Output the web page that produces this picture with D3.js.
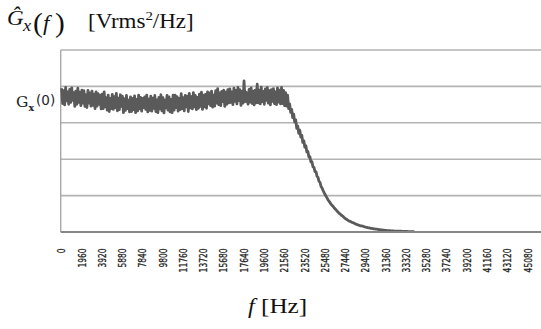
<!DOCTYPE html>
<html>
<head>
<meta charset="utf-8">
<script src="https://cdn.jsdelivr.net/npm/d3@7/dist/d3.min.js"></script>
<style>
  html, body { margin: 0; padding: 0; background: #fff; }
  svg { display: block; }
</style>
</head>
<body>
<svg id="chart" width="541" height="329"></svg>
<script>
// Estimated power spectral density, one value per 98 Hz bin starting at 0 Hz
const binWidthHz = 98;
const psdValues = [
  // pass band (noisy plateau)
  3.95, 3.53, 3.88, 3.49, 3.97, 3.60, 3.85, 3.51, 3.92, 3.56, 3.96, 3.62, 3.83,
  3.45, 3.87, 3.51, 3.95, 3.56, 3.84, 3.47, 3.90, 3.54, 3.88,
  3.45, 3.77, 3.42, 3.89, 3.54, 3.82, 3.46, 3.87, 3.48, 3.79,
  3.39, 3.85, 3.46, 3.80, 3.51, 3.76, 3.38, 3.79, 3.39, 3.85,
  3.44, 3.69, 3.35, 3.76, 3.31, 3.67, 3.39, 3.78, 3.37, 3.72, 3.42, 3.81, 3.33, 3.68, 3.36, 3.77, 3.45, 3.73,
  3.28, 3.66, 3.34, 3.75, 3.39, 3.62, 3.30, 3.71, 3.31, 3.67, 3.36, 3.74, 3.28, 3.64, 3.33, 3.76, 3.38, 3.70, 3.32,
  3.67, 3.42, 3.71, 3.37, 3.76, 3.30, 3.65, 3.34, 3.73, 3.32, 3.68, 3.40, 3.75, 3.31, 3.63, 3.28,
  3.70, 3.38, 3.77, 3.33, 3.69, 3.27, 3.62, 3.41, 3.75, 3.35, 3.71, 3.30, 3.64, 3.28, 3.76,
  3.35, 3.76, 3.42, 3.72, 3.32, 3.67, 3.36, 3.80, 3.39, 3.69, 3.33, 3.75, 3.44, 3.73, 3.31,
  3.81, 3.41, 3.72, 3.38, 3.83, 3.44, 3.75, 3.36, 3.70, 3.40, 3.79, 3.45, 3.84, 3.37, 3.76,
  3.44, 3.78, 3.40, 3.85, 3.52, 3.82, 3.47, 3.87, 3.43, 3.76,
  3.46, 3.88, 3.54, 3.94, 3.50, 3.82, 3.47, 3.86, 3.58, 3.90, 3.45, 3.84, 3.51, 3.91, 3.55,
  3.93, 3.56, 3.85, 3.50, 3.95, 3.59, 3.89, 3.52, 3.97, 3.61,
  3.91, 3.48, 3.86, 3.54, 4.15, 3.58, 3.84, 3.62, 3.51, 3.92,
  3.57, 3.96, 3.53, 3.87, 3.49, 3.90, 3.55, 4.06, 3.55, 3.90,
  3.52, 3.98, 3.58, 3.86, 3.51, 3.93, 3.62, 3.97, 3.54, 3.88,
  3.49, 3.91, 3.59, 3.94, 3.53, 3.85, 3.50, 3.96, 3.57, 3.90,
  3.52, 3.97, 3.53, 3.89, 3.47, 3.83, 3.46, 3.76, 3.39,
  // roll-off
  3.52, 3.29, 3.37, 3.14, 3.24, 3.02, 3.08, 2.85, 2.91, 2.71,
  2.80, 2.61, 2.66, 2.46, 2.51, 2.33, 2.37, 2.20, 2.21, 2.06,
  2.07, 1.92, 1.93, 1.79, 1.78, 1.66, 1.66, 1.53, 1.50, 1.39,
  1.36, 1.25, 1.21, 1.14, 1.08, 1.03, 0.98, 0.93, 0.88, 0.84,
  0.80, 0.76, 0.73, 0.70, 0.66, 0.63, 0.60, 0.57, 0.54, 0.51,
  0.49, 0.46, 0.44, 0.42, 0.39, 0.37, 0.35, 0.33, 0.31, 0.30,
  0.29, 0.27, 0.26, 0.25, 0.24, 0.22, 0.21, 0.20, 0.19, 0.18,
  0.17, 0.165, 0.16, 0.15, 0.14, 0.135, 0.13, 0.12, 0.115, 0.11,
  0.10, 0.097, 0.093, 0.088, 0.084, 0.080, 0.076, 0.072, 0.068, 0.064,
  0.060, 0.056, 0.052, 0.049, 0.046, 0.043, 0.040, 0.038, 0.036, 0.034,
  0.032, 0.030, 0.029, 0.027, 0.026, 0.025, 0.024, 0.023, 0.022, 0.021,
  0.020, 0.019, 0.018, 0.017, 0.016, 0.015, 0.014, 0.013, 0.012, 0.011,
  0.010, 0.010, 0.009, 0.008
];
// Frequency tick labels (Hz)
const tickFreqs = [
  0, 1960, 3920, 5880, 7840, 9800, 11760, 13720, 15680, 17640, 19600, 21560,
  23520, 25480, 27440, 29400, 31360, 33320, 35280, 37240, 39200, 41160, 43120, 45080
];
// Horizontal grid levels
const gridLevels = [1, 2, 3, 4, 5];

const svg = d3.select("#chart");

const plot = { left: 60.7, top: 50, bottom: 232 };
const x = d3.scaleLinear().domain([0, 47040]).range([61.6, 61.6 + 24 * 20.27]);
const y = d3.scaleLinear().domain([0, 5]).range([plot.bottom, plot.top]);

// grid lines
svg.append("g")
  .selectAll("line")
  .data(gridLevels)
  .join("line")
  .attr("x1", plot.left).attr("x2", 600)
  .attr("y1", d => y(d)).attr("y2", d => y(d))
  .attr("stroke", "#b3b3b3")
  .attr("stroke-width", 1.6);

// value axis line (no labels)
svg.append("line")
  .attr("x1", plot.left).attr("x2", plot.left)
  .attr("y1", y(5)).attr("y2", y(0))
  .attr("stroke", "#a8a8a8").attr("stroke-width", 1.4);

// spectrum trace
const line = d3.line()
  .x((d, i) => x(i * binWidthHz))
  .y(d => y(d));

svg.append("path")
  .datum(psdValues)
  .attr("d", line)
  .attr("fill", "none")
  .attr("stroke", "#5a5a5a")
  .attr("stroke-width", 2.8)
  .attr("stroke-linejoin", "round");

// category axis line
svg.append("line")
  .attr("x1", plot.left).attr("x2", 600)
  .attr("y1", y(0)).attr("y2", y(0))
  .attr("stroke", "#878787").attr("stroke-width", 1.8);

// rotated frequency labels
svg.append("g")
  .selectAll("text")
  .data(tickFreqs)
  .join("text")
  .attr("transform", d => `translate(${x(d) + 3.7},248.5) rotate(-90) scale(0.8,1.15)`)
  .attr("text-anchor", "end")
  .attr("font-family", "DejaVu Sans")
  .attr("font-size", 9.4)
  .attr("fill", "#1a1a1a")
  .attr("stroke", "#1a1a1a")
  .attr("stroke-width", 0.25)
  .text(d => d);

// G_x(0) marker label
const gl = svg.append("text")
  .attr("x", 16).attr("y", 106.5)
  .attr("fill", "#1e1e28");
gl.append("tspan").attr("font-family", "DejaVu Serif").attr("font-size", 15.5).text("G");
gl.append("tspan").attr("font-family", "DejaVu Serif").attr("font-weight", "bold")
  .attr("font-size", 9.5).attr("dy", 4).text("x");
gl.append("tspan").attr("font-family", "DejaVu Sans").attr("font-size", 13.5)
  .attr("dx", 2).attr("dy", -6).text("(0)");

// title: estimated PSD symbol with units
const serif = "Liberation Serif";
function serifText(tx, ty, str, size, italic, sx) {
  return svg.append("text")
    .attr("transform", `translate(${tx},${ty}) scale(${sx || 1.15},1)`)
    .attr("font-family", serif)
    .attr("font-size", size)
    .attr("font-style", italic ? "italic" : "normal")
    .attr("fill", "#111")
    .text(str);
}
serifText(7, 25, "\u011C", 20, true);
serifText(23, 31, "x", 16, true);
serifText(33, 31.5, "(", 28, false, 1.05);
serifText(43, 30, "f", 20, true);
serifText(55, 31.5, ")", 28, false, 1.05);

const unit = svg.append("text")
  .attr("transform", "translate(88,28) scale(1.15,1)")
  .attr("font-family", serif).attr("font-size", 20).attr("fill", "#111");
unit.append("tspan").text("[Vrms");
unit.append("tspan").attr("font-size", 13).attr("dy", -8).text("2");
unit.append("tspan").attr("dy", 8).text("/Hz]");

// x-axis title
serifText(248, 313, "f", 21, true);
serifText(261, 313, "[Hz]", 21, false, 1.2);
</script>
</body>
</html>
